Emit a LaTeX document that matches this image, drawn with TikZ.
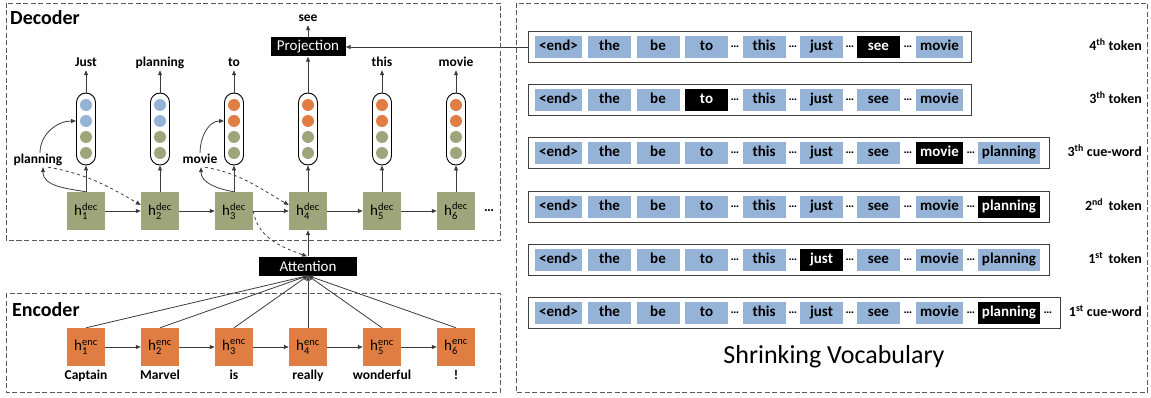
\documentclass[tikz,border=0pt]{standalone}
\usepackage{amsmath}
\usepackage{fontspec}
\setmainfont{Carlito}
\usetikzlibrary{arrows.meta,positioning}
\definecolor{decgreen}{RGB}{159,165,122}
\definecolor{encorange}{RGB}{224,125,66}
\definecolor{vocblue}{RGB}{149,179,214}
\definecolor{lineg}{RGB}{60,60,60}
\newcommand{\fs}[1]{\fontsize{#1}{#1}\selectfont}

\begin{document}
\begin{tikzpicture}[x=1pt,y=-1pt,
  frame/.style={draw=black!65,dash pattern=on 5pt off 2.5pt,line width=0.8pt},
  title/.style={font=\bfseries\fs{20},anchor=west,inner sep=0pt},
  hbox/.style={minimum size=38pt,inner sep=0pt,font=\fs{15}},
  pill/.style={draw,fill=white,line width=0.9pt,rounded corners=9.5pt,minimum width=19pt,minimum height=72pt},
  ball/.style={circle,inner sep=0pt,minimum size=12pt},
  word/.style={font=\bfseries\fs{13.5},inner sep=1pt,text height=9.5pt,text depth=2.5pt},
  blk/.style={fill=black,text=white,font=\fs{15},inner sep=0pt,minimum height=19pt},
  arr/.style={draw=lineg,line width=0.8pt,-{Triangle[length=5pt,width=4pt]}},
  voc/.style={fill=vocblue,inner sep=0pt,minimum height=22pt,text height=10.5pt,text depth=3pt,font=\bfseries\fs{15}},
  hit/.style={fill=black,text=white},
  rowbox/.style={draw=black!75,fill=white,line width=0.9pt,minimum height=31pt,inner sep=0pt,anchor=west}]
\useasboundingbox (0,0) rectangle (1151,398);

% frames
\draw[frame] (6,3) rectangle (500,240);
\draw[frame] (6,293) rectangle (500,392);
\draw[frame] (516,3) rectangle (1147,392);
\node[title] (dectitle) at (10,18) {Decoder};
\node[title] (enctitle) at (12,310) {Encoder};

% decoder and encoder states
\foreach \i/\c in {1/vocblue,2/vocblue,3/encorange,4/encorange,5/encorange,6/encorange}{
  \pgfmathsetmacro\x{86+74*(\i-1)}
  \node[hbox,fill=decgreen] (d\i) at (\x,211) {h$_{\text{\i}}^{\text{dec}}$};
  \node[hbox,fill=encorange] (e\i) at (\x,347) {h$_{\text{\i}}^{\text{enc}}$};
  \node[pill] (p\i) at (\x,129) {};
  \node[ball,fill=\c] (b\i-1) at (\x,105) {};
  \node[ball,fill=\c] (b\i-2) at (\x,121) {};
  \node[ball,fill=decgreen] (b\i-3) at (\x,137) {};
  \node[ball,fill=decgreen] (b\i-4) at (\x,153) {};
  \draw[arr] (d\i.north) -- (p\i.south);
}
\foreach \i [evaluate=\i as \j using int(\i+1)] in {1,...,5}{
  \draw[arr] (d\i) -- (d\j);
  \draw[arr] (e\i) -- (e\j);
}
\node[font=\bfseries\fs{14}] (ddots) at (489,211) {\ldots};

\foreach \i/\wt in {1/Just,2/planning,3/to,5/this,6/movie}{
  \node[word] (dw\i) at ({86+74*(\i-1)},63) {\wt};
  \draw[arr] (p\i.north) -- (dw\i.south);
}
\foreach \i/\wt in {1/Captain,2/Marvel,3/is,4/really,5/wonderful,6/!}
  \node[word] (ew\i) at ({86+74*(\i-1)},376) {\wt};

% projection and attention
\node[blk,minimum width=75pt] (proj) at (308,47) {Projection};
\node[word] (see) at (308,18) {see};
\draw[arr] (p4.north) -- (proj.south);
\draw[arr] (proj) -- (see);
\node[blk,minimum width=98pt] (att) at (308,266) {Attention};
\draw[arr] (att) -- (d4);
\foreach \i in {1,...,6}
  \draw[arr] (e\i.north) -- (att.south);
\draw[arr,dashed] (d3.east) to[out=-80,in=160] ([xshift=-1pt]att.north);

% cue-words
\node[word] (cue1) at (38,160) {planning};
\node[word] (cue3) at (200,160) {movie};
\draw[arr] (d1.north) to[out=170,in=-90] ([xshift=5pt]cue1.south);
\draw[arr] ([xshift=2pt]cue1.north) to[out=90,in=180] ([yshift=8pt]p1.west);
\draw[arr,dashed] ([xshift=10pt]cue1.south) to[out=-10,in=150] ([yshift=6pt]d2.west);
\draw[arr] (d3.north) to[out=170,in=-90] ([xshift=1pt]cue3.south);
\draw[arr] (cue3.north) to[out=90,in=180] ([yshift=8pt]p3.west);
\draw[arr,dashed] ([xshift=5pt]cue3.south) to[out=-10,in=150] ([yshift=6pt]d4.west);

% shrinking vocabulary
\foreach \rr/\y/\hi/\last/\xr/\lab in {
  1/47/7/8/971/{4\textsuperscript{th} token},
  2/100/4/8/971/{3\textsuperscript{th} token},
  3/153/8/9/1049/{3\textsuperscript{th} cue-word},
  4/207/9/9/1049/{2\textsuperscript{nd}\, token},
  5/260/6/9/1049/{1\textsuperscript{st}\, token},
  6/313/9/9/1060/{1\textsuperscript{st} cue-word}}{
  \pgfmathsetmacro\rw{\xr-528}
  \node[rowbox,minimum width=\rw pt] (row\rr) at (528,\y) {};
  \foreach \wi/\wx/\ww/\wt in {1/558.5/47/{<end>},2/609.5/43/the,3/658/43/be,4/706.5/43/to,
      5/764/43/this,6/821.5/43/just,7/878.5/43/see,8/939.5/47/movie,9/1009/62/planning}{
    \ifnum\wi>\last\else
      \ifnum\wi=\hi\def\sty{hit}\else\def\sty{}\fi
      \node[voc,minimum width=\ww pt,\sty] (v\rr-\wi) at (\wx,\y) {\wt};
    \fi}
  \foreach \n/\wx in {1/735,2/793,3/850,4/908}
    \node[font=\bfseries\fs{12}] (dots\rr-\n) at (\wx,\y) {\ldots};
  \ifnum\last=9 \node[font=\bfseries\fs{12}] (dots\rr-5) at (971,\y) {\ldots};\fi
  \ifnum\rr=6 \node[font=\bfseries\fs{12}] (dots\rr-6) at (1048,\y) {\ldots};\fi
  \node[word,anchor=east,font=\bfseries\fs{14}] (lab\rr) at (1143,\y) {\lab};
}
\draw[arr] (row1.west) -- (proj.east);
\node[font=\fs{26}] (shrink) at (834,357) {Shrinking Vocabulary};
\end{tikzpicture}
\end{document}
